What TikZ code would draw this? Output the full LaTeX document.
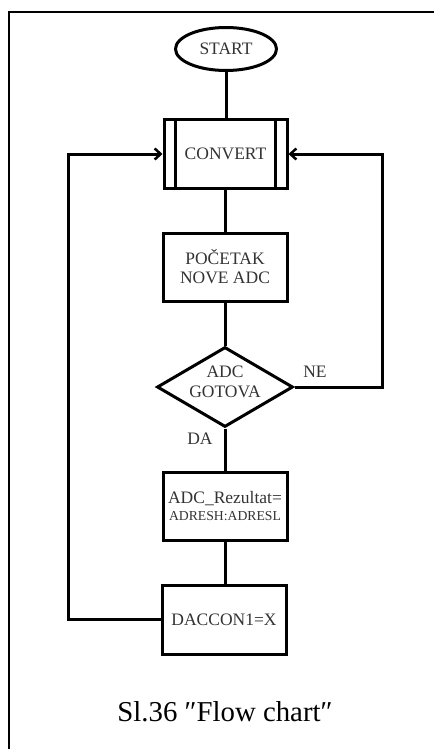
\documentclass[tikz,border=0pt]{standalone}
\usepackage{fontspec}
\setmainfont{Liberation Serif}
\usetikzlibrary{shapes.geometric,arrows.meta}
\begin{document}
\begin{tikzpicture}[x=1pt,y=-1pt,
  box/.style={draw,line width=3pt,minimum width=124pt,minimum height=68pt,inner sep=0pt,align=center,text=black!80,font=\fontsize{17.5}{19}\selectfont},
  conn/.style={line width=3pt},
  arr/.style={line width=3pt,-{Straight Barb[length=6pt,width=11pt,line width=2.5pt]}},
  lbl/.style={text=black!80,font=\fontsize{17.5}{19}\selectfont,inner sep=0pt}
]
\useasboundingbox (0,0) rectangle (434,749);
% frame (top and left edges visible)
\draw[line width=2pt] (9,749) -- (9,12) -- (434,12);

\node (start) [draw,ellipse,line width=3pt,minimum width=101pt,minimum height=43pt,inner sep=0pt,lbl] at (226,49) {START};
\node (convert) [box,minimum width=123pt,minimum height=69pt] at (225.5,154) {CONVERT};
\draw[line width=3pt] ([xshift=13pt]convert.north west) -- ([xshift=13pt]convert.south west);
\draw[line width=3pt] ([xshift=-13pt]convert.north east) -- ([xshift=-13pt]convert.south east);
\node (poc) [box] at (225,267) {POČETAK\\NOVE ADC};
\node (dec) [draw,diamond,line width=3pt,minimum width=136pt,minimum height=80pt,inner sep=0pt] at (225,387) {};
\node (dectext) [lbl,align=center,font=\fontsize{17.5}{20}\selectfont] at (225,382) {ADC\\GOTOVA};
\node (res) [box] at (225,506) {ADC\_Rezultat=\\[-2pt]{\fontsize{13.7}{15}\selectfont ADRESH:ADRESL}};
\node (dac) [box,minimum height=69pt] at (224,619.5) {DACCON1=X};

\node (ne) [lbl] at (315,372) {NE};
\node (da) [lbl] at (200,439) {DA};

\coordinate (rc) at (382,387);
\coordinate (lc) at (68,619.5);

\draw[conn] (start) -- (start |- convert.north);
\draw[conn] (convert.south) -- (convert.south |- poc.north);
\draw[conn] (poc.south) -- (dec.north);
\draw[conn] (dec.south) -- (res.north);
\draw[conn] (res.south) -- (res.south |- dac.north);
\draw[arr] (dec.east) -- (rc) |- (convert.east);
\draw[arr] (dac.west) -- (lc) |- (convert.west);

\node (caption) [inner sep=0pt,font=\fontsize{28.8}{30}\selectfont] at (225,712) {Sl.36 ″Flow chart″};
\end{tikzpicture}
\end{document}
